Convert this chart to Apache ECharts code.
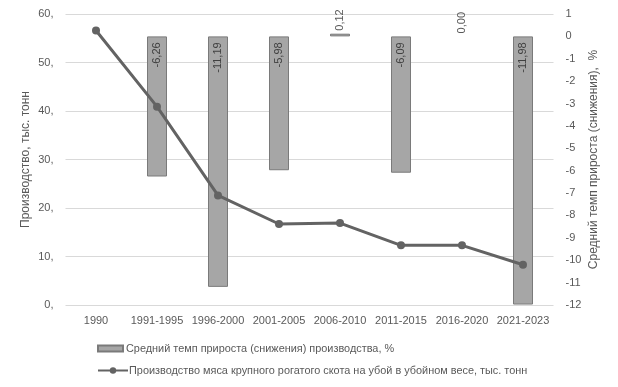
<!DOCTYPE html>
<html><head><meta charset="utf-8">
<script src="https://cdn.jsdelivr.net/npm/echarts@6/dist/echarts.min.js"></script>
<style>html,body{margin:0;padding:0;background:#fff}#c{width:618px;height:387px}</style>
</head><body><div id="c"></div>
<script>
var categories = ['1990','1991-1995','1996-2000','2001-2005','2006-2010','2011-2015','2016-2020','2021-2023'];
var growthRate = [null, -6.26, -11.19, -5.98, 0.12, -6.09, 0.00, -11.98];
var production = [56.6, 40.9, 22.6, 16.7, 16.9, 12.3, 12.3, 8.3];
var leftTicks = [0, 60, 10];
var rightTicks = [-12, 1, 1];
var barName = 'Средний темп прироста (снижения) производства, %';
var lineName = 'Производство мяса крупного рогатого скота на убой в убойном весе, тыс. тонн';

var FONT = 'Liberation Sans';
var barData = growthRate.map(function (v) {
  if (v === null) return null;
  var item = { value: v };
  if (v >= 0) {
    item.label = { position: 'top', distance: 3, align: 'left', verticalAlign: 'middle', color: '#595959' };
  } else {
    item.label = { position: 'insideTop', distance: 6, align: 'right', verticalAlign: 'middle', color: '#404040' };
  }
  if (v === 0) item.itemStyle = { borderWidth: 0 };
  return item;
});

var chart = echarts.init(document.getElementById('c'), null, { renderer: 'canvas' });
chart.setOption({
  animation: false,
  textStyle: { fontFamily: FONT },
  grid: { left: 65.5, right: 64.5, top: 14, bottom: 82, containLabel: false },
  legend: [
    { orient: 'vertical', left: 92, top: 338, itemWidth: 25, itemHeight: 6, itemGap: 8,
      data: [{ name: barName, icon: 'rect' }],
      textStyle: { fontFamily: FONT, fontSize: 10.9, color: '#595959', padding: [0, 0, 0, -2] } },
    { orient: 'vertical', left: 92, top: 360, itemWidth: 30, itemHeight: 8, itemGap: 8,
      data: [{ name: lineName }],
      textStyle: { fontFamily: FONT, fontSize: 10.9, color: '#595959', padding: [0, 0, 0, -4] } }
  ],
  xAxis: {
    type: 'category', data: categories,
    axisLine: { show: false }, axisTick: { show: false },
    axisLabel: { color: '#595959', fontSize: 11, margin: 10, interval: 0 }
  },
  yAxis: [
    { type: 'value', min: leftTicks[0], max: leftTicks[1], interval: leftTicks[2],
      name: 'Производство, тыс. тонн', nameLocation: 'middle', nameGap: 34, nameMoveOverlap: false,
      nameTextStyle: { color: '#595959', fontSize: 12 },
      axisLine: { show: false }, axisTick: { show: false },
      axisLabel: { color: '#595959', fontSize: 11, margin: 12, formatter: function (v) { return v + ','; } },
      splitLine: { lineStyle: { color: '#d9d9d9', width: 1 } } },
    { type: 'value', min: rightTicks[0], max: rightTicks[1], interval: rightTicks[2], position: 'right',
      name: 'Средний темп прироста (снижения),  %', nameLocation: 'middle', nameGap: 34, nameMoveOverlap: false,
      nameTextStyle: { color: '#595959', fontSize: 12 },
      axisLine: { show: false }, axisTick: { show: false },
      axisLabel: { color: '#595959', fontSize: 11, margin: 12 },
      splitLine: { show: false } }
  ],
  series: [
    { name: barName, type: 'bar', yAxisIndex: 1, data: barData, barWidth: 20,
      itemStyle: { color: '#a6a6a6', borderColor: '#7a7a7a', borderWidth: 1 },
      label: { show: true, rotate: 90, fontSize: 11, fontFamily: FONT,
        formatter: function (p) { return p.value.toFixed(2).replace('.', ','); } } },
    { name: lineName, type: 'line', yAxisIndex: 0, data: production,
      symbol: 'circle', symbolSize: 8,
      lineStyle: { color: '#636363', width: 3 },
      itemStyle: { color: '#636363' }, z: 3 }
  ]
});
</script></body></html>
